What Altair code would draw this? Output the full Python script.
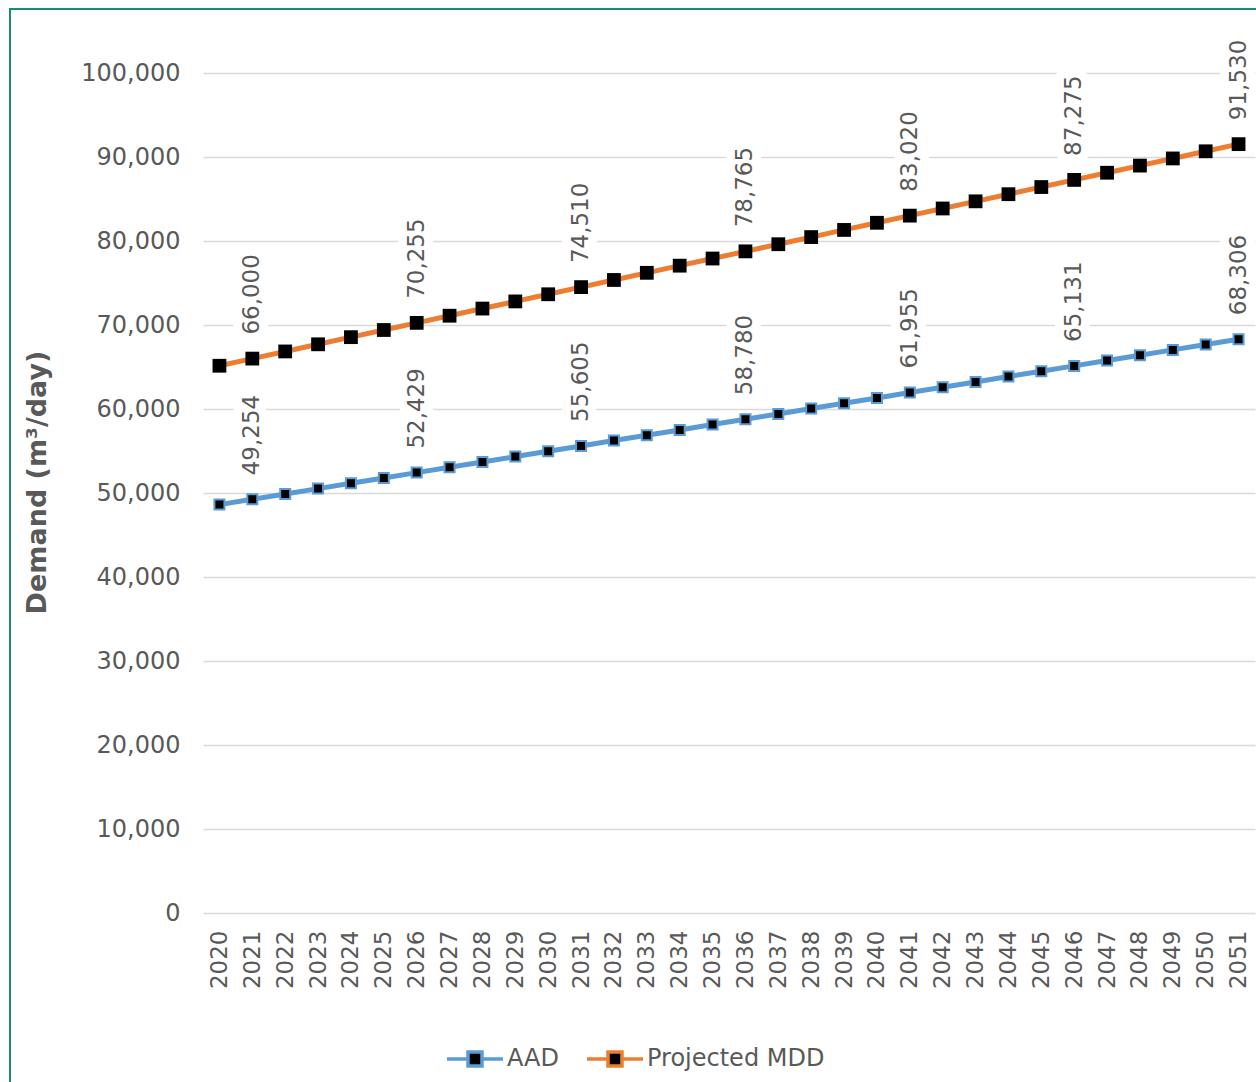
import altair as alt
import pandas as pd

# Projection years (x categories)
years = [
    2020, 2021, 2022, 2023, 2024, 2025, 2026, 2027, 2028, 2029, 2030,
    2031, 2032, 2033, 2034, 2035, 2036, 2037, 2038, 2039, 2040, 2041,
    2042, 2043, 2044, 2045, 2046, 2047, 2048, 2049, 2050, 2051,
]

# Average annual demand (m3/day)
aad = [
    48619, 49254, 49889, 50524, 51159, 51794, 52429, 53064, 53699, 54335,
    54970, 55605, 56240, 56875, 57510, 58145, 58780, 59415, 60050, 60685,
    61320, 61955, 62590, 63225, 63861, 64496, 65131, 65766, 66401, 67036,
    67671, 68306,
]

# Projected maximum day demand (m3/day)
mdd = [
    65149, 66000, 66851, 67702, 68553, 69404, 70255, 71106, 71957, 72808,
    73659, 74510, 75361, 76212, 77063, 77914, 78765, 79616, 80467, 81318,
    82169, 83020, 83871, 84722, 85573, 86424, 87275, 88126, 88977, 89828,
    90679, 91530,
]

# Years whose values are annotated
labelled_years = [2021, 2026, 2031, 2036, 2041, 2046, 2051]

series_names = ["AAD", "Projected MDD"]
series_colors = ["#5B9BD5", "#ED7D31"]
y_ticks = [0, 10000, 20000, 30000, 40000, 50000, 60000, 70000, 80000, 90000, 100000]

rows = []
for name, vals in zip(series_names, [aad, mdd]):
    for yr, v in zip(years, vals):
        rows.append({"year": str(yr), "series": name, "value": v,
                     "labelled": yr in labelled_years})
df = pd.DataFrame(rows)

TEXT = "#595959"
FONT = "DejaVu Sans"

# legend glyph: line segment through a square marker
legend_glyph = "M-1,0H-0.25M0.25,0H1M-0.25,-0.25H0.25V0.25H-0.25Z"

x_enc = alt.X(
    "year:O",
    sort=[str(y) for y in years],
    scale=alt.Scale(type="point", padding=0.5),
    axis=alt.Axis(
        title=None, labelAngle=270, labelFontSize=23, labelColor=TEXT,
        labelPadding=17, ticks=False, domain=False, grid=False,
    ),
)
y_enc = alt.Y(
    "value:Q",
    scale=alt.Scale(domain=[0, 100000], nice=False, zero=True),
    axis=alt.Axis(
        values=y_ticks, format=",.0f", labelFontSize=24, labelColor=TEXT,
        labelPadding=23, ticks=False, domain=False,
        gridColor="#D9D9D9", gridWidth=1.5,
        title="Demand (m³/day)", titleFontSize=27, titleFontWeight="bold",
        titleColor=TEXT, titleAngle=270, titleX=-166, titleY=409,
        titleAlign="center", titleBaseline="middle",
    ),
)

base = alt.Chart(df)

lines = base.mark_line(strokeWidth=5).encode(
    x=x_enc,
    y=y_enc,
    color=alt.Color(
        "series:N",
        scale=alt.Scale(domain=series_names, range=series_colors),
        legend=alt.Legend(
            title=None, orient="none", direction="horizontal",
            legendX=242, legendY=956,
            symbolType=legend_glyph, symbolSize=3136, symbolStrokeWidth=3.5,
            symbolFillColor="black", labelFontSize=24, labelColor=TEXT,
            labelOffset=2, columnPadding=21, labelFont=FONT, labelLimit=400,
        ),
    ),
)

mdd_points = base.transform_filter(alt.datum.series == "Projected MDD").mark_square(
    size=190, color="black", opacity=1
).encode(x=x_enc, y=y_enc)

aad_points = base.transform_filter(alt.datum.series == "AAD").mark_square(
    size=100, fill="black", stroke="#5B9BD5", strokeWidth=2, opacity=1, filled=True
).encode(x=x_enc, y=y_enc)

labels_base = base.transform_filter(alt.datum.labelled)

halo = labels_base.mark_text(
    angle=270, align="left", baseline="middle", dx=24, fontSize=23,
    color="white", stroke="white", strokeWidth=18, strokeJoin="round",
).encode(x=x_enc, y=y_enc, text=alt.Text("value:Q", format=","))

labels = labels_base.mark_text(
    angle=270, align="left", baseline="middle", dx=24, fontSize=23, color=TEXT,
).encode(x=x_enc, y=y_enc, text=alt.Text("value:Q", format=","))

frame = alt.Chart(pd.DataFrame({"f": [0]})).mark_rect(
    fill="transparent", stroke="#1E8A70", strokeWidth=2
).encode(
    x=alt.value(-193), x2=alt.value(1300),
    y=alt.value(-64), y2=alt.value(1200),
)

chart = alt.layer(frame, lines, mdd_points, aad_points, halo, labels).properties(
    width=1052,
    height=840,
    autosize=alt.AutoSizeParams(type="none"),
    padding={"left": 203, "top": 73, "right": 1, "bottom": 169},
    background="white",
).configure(font=FONT).configure_view(stroke=None)

chart.save("out.html", embed_options={"renderer": "svg", "actions": False})
